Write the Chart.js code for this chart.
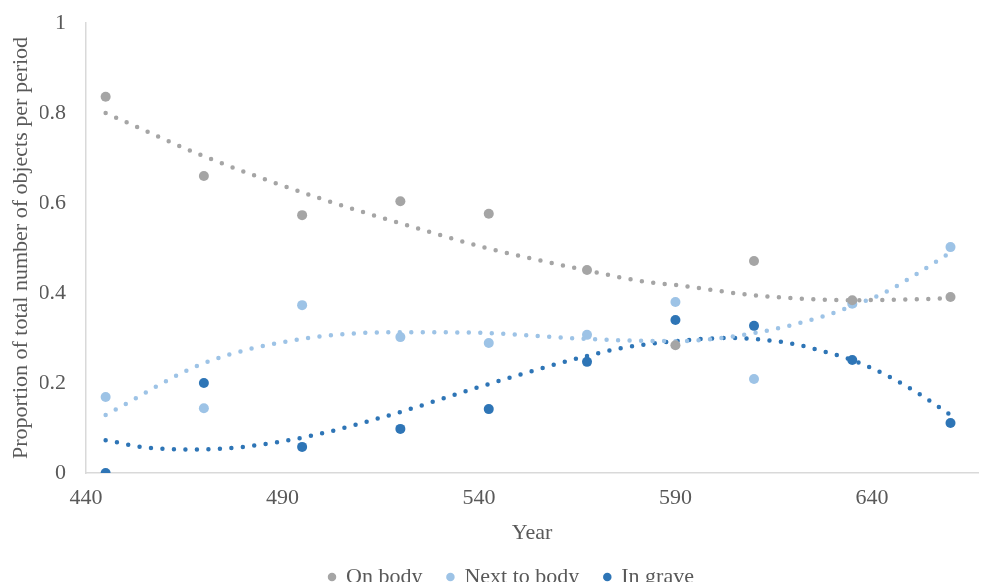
<!DOCTYPE html>
<html>
<head>
<meta charset="utf-8">
<script src="https://cdn.jsdelivr.net/npm/chart.js@4"></script>
<style>
    html, body { margin: 0; padding: 0; background: #fff; }
</style>
</head>
<body>
<canvas id="chart" width="983" height="582"></canvas>
<script>
// Period mid-years and observed proportions
const years = [445, 470, 495, 520, 542.5, 567.5, 590, 610, 635, 660];
const onBody = [0.836, 0.66, 0.573, 0.604, 0.576, 0.451, 0.284, 0.471, 0.384, 0.391];
const nextToBody = [0.169, 0.144, 0.373, 0.302, 0.289, 0.307, 0.38, 0.209, 0.376, 0.502];
const inGrave = [0, 0.2, 0.058, 0.098, 0.142, 0.247, 0.34, 0.327, 0.251, 0.111];

// Trendlines
const onBodyTrendX = [445, 470, 500, 520, 542, 567, 583, 590, 610, 635, 660];
const onBodyTrendY = [0.80, 0.704, 0.609, 0.555, 0.50, 0.451, 0.424, 0.418, 0.395, 0.384, 0.388];
const nextTrendX = [445, 470, 495, 520, 542, 567, 590, 610, 628, 634, 643, 651, 660];
const nextTrendY = [0.129, 0.244, 0.298, 0.313, 0.311, 0.298, 0.293, 0.311, 0.349, 0.368, 0.40, 0.44, 0.49];
const graveTrendX = [445, 455, 467, 480, 498, 519, 540, 561, 576, 590, 604, 611, 620, 629, 635, 644, 652, 660];
const graveTrendY = [0.073, 0.057, 0.052, 0.058, 0.084, 0.133, 0.191, 0.245, 0.277, 0.293, 0.30, 0.297, 0.287, 0.267, 0.251, 0.216, 0.176, 0.129];

const xTicks = [440, 490, 540, 590, 640];
const yTicks = [0, 0.2, 0.4, 0.6, 0.8, 1];
const yTickLabels = ['0', '0.2', '0.4', '0.6', '0.8', '1'];

const GREY = '#a5a5a5';
const LIGHT = '#9dc3e6';
const DARK = '#2e75b6';
const TEXT = '#595959';
const FONT = { family: "'Liberation Serif', 'DejaVu Serif', serif", size: 22 };

function pts(xs, ys) {
    return xs.map((x, i) => ({ x: x, y: ys[i] }));
}

function pointSet(label, ys, color) {
    return {
        label: label,
        data: pts(years, ys),
        showLine: false,
        pointRadius: 5,
        pointHoverRadius: 5,
        pointBackgroundColor: color,
        pointBorderWidth: 0,
        backgroundColor: color,
        borderColor: color
    };
}

function trendSet(xs, ys, color) {
    return {
        label: 'trend',
        data: pts(xs, ys),
        borderColor: color,
        borderWidth: 4.5,
        borderDash: [0, 11.5],
        borderCapStyle: 'round',
        pointRadius: 0,
        cubicInterpolationMode: 'monotone',
        fill: false
    };
}

const ctx = document.getElementById('chart').getContext('2d');
new Chart(ctx, {
    type: 'line',
    data: {
        datasets: [
            pointSet('On body', onBody, GREY),
            pointSet('Next to body', nextToBody, LIGHT),
            pointSet('In grave', inGrave, DARK),
            trendSet(onBodyTrendX, onBodyTrendY, GREY),
            trendSet(nextTrendX, nextTrendY, LIGHT),
            trendSet(graveTrendX, graveTrendY, DARK)
        ]
    },
    options: {
        responsive: false,
        animation: false,
        layout: { padding: { top: 23, left: 40, right: 0, bottom: -16 } },
        plugins: {
            tooltip: { enabled: false },
            legend: {
                position: 'bottom',
                labels: {
                    filter: item => item.datasetIndex < 3,
                    usePointStyle: true,
                    pointStyle: 'circle',
                    boxWidth: 6,
                    boxHeight: 6,
                    padding: 25,
                    color: TEXT,
                    font: FONT
                }
            }
        },
        scales: {
            x: {
                type: 'linear',
                min: 440,
                max: 667,
                afterBuildTicks: s => { s.ticks = xTicks.map(v => ({ value: v })); },
                afterFit: s => { s.height = 68; },
                grid: { display: false, drawTicks: false },
                border: { display: true, color: '#d9d9d9', width: 1.5 },
                ticks: { padding: 12, color: TEXT, font: FONT, maxRotation: 0 },
                title: { display: true, text: 'Year', color: TEXT, font: FONT, padding: { top: 0, bottom: -5 } }
            },
            y: {
                min: 0,
                max: 1,
                afterBuildTicks: s => { s.ticks = yTicks.map(v => ({ value: v })); },
                afterFit: s => { s.width = 46; s.paddingTop = 0; s.paddingBottom = 0; },
                grid: { display: false, drawTicks: false },
                border: { display: true, color: '#d9d9d9', width: 1.5 },
                ticks: { padding: 20, color: TEXT, font: FONT, callback: (v, i) => yTickLabels[i] },
                title: { display: true, text: 'Proportion of total number of objects per period', color: TEXT, font: FONT, padding: { top: -32, bottom: 0 } }
            }
        }
    }
});
</script>
</body>
</html>
